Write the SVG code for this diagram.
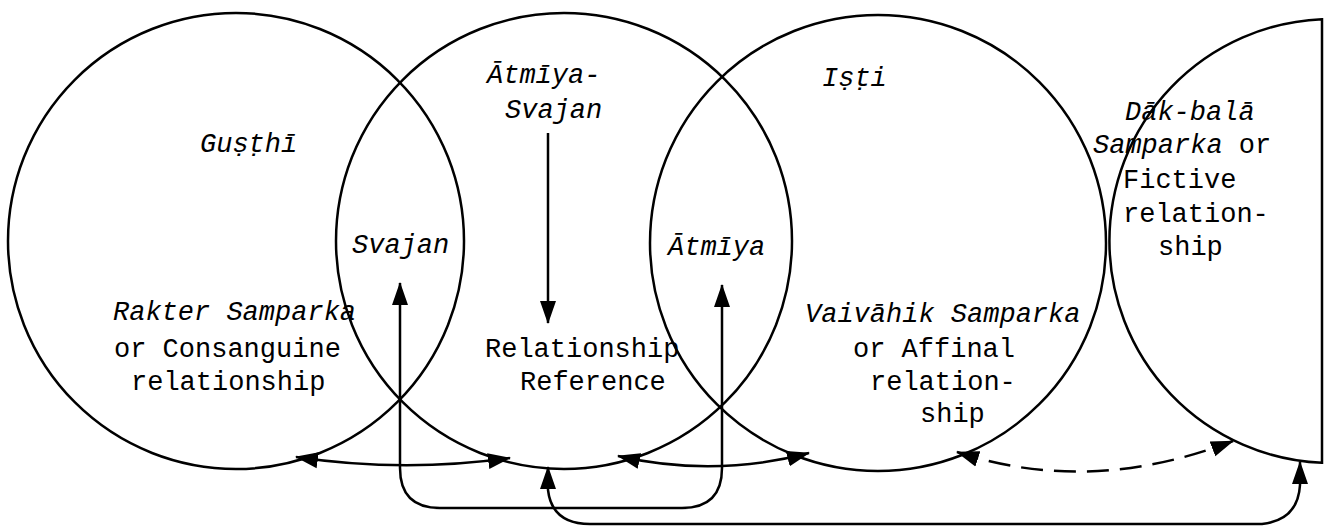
<svg xmlns="http://www.w3.org/2000/svg" width="1324" height="529" viewBox="0 0 1324 529">
<style>
.c{fill:none;stroke:#000;stroke-width:2.5}
.k{fill:none;stroke:#000;stroke-width:2.5}
.d{stroke-dasharray:22 11}
text{font-family:"Liberation Mono","DejaVu Sans Mono",monospace;font-size:27px;fill:#000}
.i{font-style:italic}
</style>
<defs>
<marker id="ah" markerUnits="userSpaceOnUse" markerWidth="24" markerHeight="18" viewBox="0 0 24 18" refX="22" refY="9" orient="auto-start-reverse">
<path d="M0,1 L23,9 L0,17 Z" fill="#000"/>
</marker>
</defs>
<rect width="1324" height="529" fill="#fff"/>
<g id="gusthi">
<circle class="c" cx="236" cy="241" r="228"/>
<text class="i" x="200" y="152">Guṣṭhī</text>
<text class="i" x="113" y="320">Rakter Samparka</text>
<text x="114" y="357">or Consanguine</text>
<text x="131" y="390">relationship</text>
</g>
<g id="atmiya-svajan">
<circle class="c" cx="564" cy="241" r="228"/>
<text class="i" x="487" y="83">Ātmīya-</text>
<text class="i" x="505" y="118">Svajan</text>
<text x="485" y="357">Relationship</text>
<text x="520" y="390">Reference</text>
</g>
<g id="isti">
<circle class="c" cx="878" cy="243" r="228"/>
<text class="i" x="822" y="86">Iṣṭi</text>
<text class="i" x="805" y="322">Vaivāhik Samparka</text>
<text x="853" y="357">or Affinal</text>
<text x="870" y="390">relation-</text>
<text x="920" y="422">ship</text>
</g>
<g id="dak-bala">
<path class="c" d="M1322,19.2 A222,222 0 0 0 1322,462.8 Z"/>
<text class="i" x="1125" y="120">Dāk-balā</text>
<text x="1093" y="153"><tspan class="i">Samparka</tspan> or</text>
<text x="1123" y="188">Fictive</text>
<text x="1123" y="222">relation-</text>
<text x="1158" y="255">ship</text>
</g>
<g id="svajan">
<text class="i" x="352" y="253">Svajan</text>
</g>
<g id="atmiya">
<text class="i" x="668" y="255">Ātmīya</text>
</g>
<g id="connectors">
<path class="k" d="M548,133 L548,323" marker-end="url(#ah)"/>
<path class="k" d="M296,457 Q403,473 510,458" marker-start="url(#ah)" marker-end="url(#ah)"/>
<path class="k" d="M618,456 Q714,478 809,453" marker-start="url(#ah)" marker-end="url(#ah)"/>
<path class="k d" d="M957,452 Q1090,496 1233,441" marker-start="url(#ah)" marker-end="url(#ah)"/>
<path class="k" d="M400,283 L400,468 Q400,508 440,508 L682,508 Q722,508 722,468 L722,285" marker-start="url(#ah)" marker-end="url(#ah)"/>
<path class="k" d="M548,467 L548,490 Q552,524 590,524 L1262,524 Q1298,520 1300,485 L1300,462" marker-start="url(#ah)" marker-end="url(#ah)"/>
</g>
</svg>
